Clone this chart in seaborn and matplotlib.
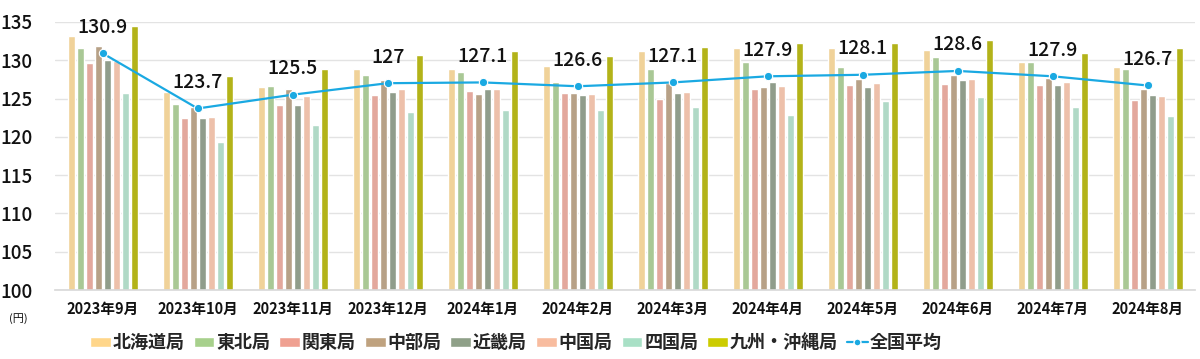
import matplotlib.pyplot as plt
import matplotlib.lines as mlines
import matplotlib.patches as mpatches
import pandas as pd
import seaborn as sns

sns.set_theme(style='white')
plt.rcParams['font.family'] = ['Noto Sans CJK JP', 'DejaVu Sans']

months = ['2023年9月', '2023年10月', '2023年11月', '2023年12月', '2024年1月', '2024年2月',
          '2024年3月', '2024年4月', '2024年5月', '2024年6月', '2024年7月', '2024年8月']

hokkaido = [133.1, 125.8, 126.5, 128.8, 128.9, 129.2, 131.2, 131.6, 131.6, 131.3, 129.8, 129.1]
tohoku = [131.6, 124.3, 126.6, 128.1, 128.4, 127.1, 128.8, 129.8, 129.1, 130.4, 129.8, 128.8]
kanto = [129.7, 122.4, 124.2, 125.4, 126.0, 125.7, 125.0, 126.3, 126.7, 126.9, 126.8, 124.8]
chubu = [131.8, 123.9, 126.2, 127.4, 125.6, 125.7, 127.0, 126.5, 127.5, 128.1, 127.7, 126.2]
kinki = [130.0, 122.4, 124.2, 125.9, 126.3, 125.5, 125.7, 127.2, 126.5, 127.4, 126.8, 125.4]
chugoku = [129.9, 122.6, 125.3, 126.2, 126.2, 125.6, 125.8, 126.6, 127.0, 127.5, 127.1, 125.3]
shikoku = [125.7, 119.3, 121.5, 123.3, 123.5, 123.5, 123.9, 122.9, 124.7, 125.2, 123.9, 122.7]
kyushu = [134.5, 128.0, 128.9, 130.7, 131.2, 130.6, 131.7, 132.3, 132.3, 132.7, 131.0, 131.6]
national = [130.9, 123.7, 125.5, 127.0, 127.1, 126.6, 127.1, 127.9, 128.1, 128.6, 127.9, 126.7]
national_labels = ['130.9', '123.7', '125.5', '127', '127.1', '126.6',
                   '127.1', '127.9', '128.1', '128.6', '127.9', '126.7']

regions = ['北海道局', '東北局', '関東局', '中部局', '近畿局', '中国局', '四国局', '九州・沖縄局']
colors = ['#FFD68A', '#A7D08C', '#EFA091', '#BFA27F', '#8FA088', '#F8BC9F', '#A9E0C6', '#CCCC00']
line_color = '#1AA9E2'

series = [hokkaido, tohoku, kanto, chubu, kinki, chugoku, shikoku, kyushu]
rows = []
for reg, vals in zip(regions, series):
    for m, v in zip(months, vals):
        rows.append({'month': m, 'region': reg, 'price': v})
df = pd.DataFrame(rows)

fig = plt.figure(figsize=(12, 3.59), dpi=100)
ax = fig.add_axes([0.046, 0.192, 0.95, 0.747])

sns.barplot(data=df, x='month', y='price', hue='region', order=months, hue_order=regions,
            palette=colors, width=0.76, gap=0.22, ax=ax, legend=False, zorder=2)

xs = list(range(len(months)))
sns.lineplot(x=xs, y=national, color=line_color, marker='o', markersize=6,
             markeredgecolor='white', markeredgewidth=0.8, linewidth=1.6, ax=ax, zorder=3)
for x, y, lab in zip(xs, national, national_labels):
    ax.annotate(lab, (x, y), xytext=(0, 12), textcoords='offset points',
                ha='center', va='bottom', fontsize=14, fontweight='medium',
                color='#111111', zorder=4)

ax.set_ylim(100, 135)
ax.set_xlim(-0.5, len(months) - 0.5)
ax.set_yticks(range(100, 136, 5))
ax.yaxis.grid(True, color='#E3E3E3', linewidth=1, zorder=0)
ax.set_axisbelow(True)
for s in ['top', 'right', 'left']:
    ax.spines[s].set_visible(False)
ax.spines['bottom'].set_color('#D9D9D9')
ax.set_xlabel('')
ax.set_ylabel('')
ax.tick_params(axis='y', labelsize=13.5, length=0, pad=16, labelcolor='#111111')
ax.tick_params(axis='x', labelsize=10.5, length=0, pad=8, labelcolor='#111111')
ax.set_xticks([i - 0.5 for i in range(len(months) + 1)], minor=True)
ax.tick_params(axis='x', which='minor', length=5, color='#D9D9D9', width=1)
for t in ax.get_xticklabels():
    t.set_fontweight('bold')
for t in ax.get_yticklabels():
    t.set_fontweight('medium')

fig.text(0.015, 0.112, '(円)', fontsize=8, ha='center', va='center', color='#111111')

handles = [mpatches.Patch(facecolor=c, label=r) for c, r in zip(colors, regions)]
handles.append(mlines.Line2D([], [], color=line_color, marker='o', markersize=5,
                             markeredgecolor='white', linewidth=1.6, label='全国平均'))
fig.legend(handles=handles, loc='center left', bbox_to_anchor=(0.075, 0.045), ncol=9,
           frameon=False, prop={'size': 13, 'weight': 'bold'},
           handlelength=1.15, handleheight=0.55, handletextpad=0.1,
           columnspacing=0.5, borderaxespad=0, borderpad=0)

fig.savefig('out.png', dpi=100)
